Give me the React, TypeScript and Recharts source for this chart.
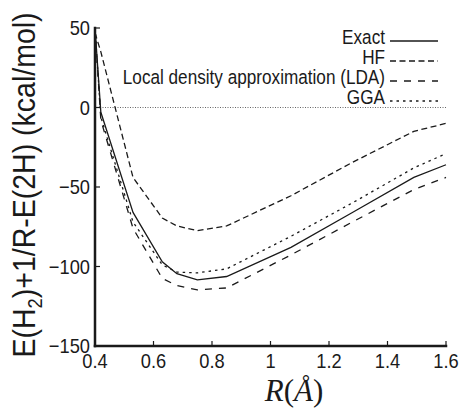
import { LineChart, Line, XAxis, YAxis, ReferenceLine, Customized } from 'recharts'

// bond length R (Å) and energies (kcal/mol)
const radii = [0.4, 0.42, 0.53, 0.63, 0.68, 0.75, 0.85, 1.07, 1.28, 1.49, 1.6]
const exact = [50, -3, -66, -97, -104.5, -108.4, -106.3, -88, -66, -44, -36]
const hf = [47, 35, -44, -69.5, -74.5, -77.5, -74.5, -55.5, -34.5, -15, -10]
const lda = [50, -8, -76, -107.5, -112, -114.7, -113.5, -92.7, -72, -51.6, -44]
const gga = [50, -6, -72, -99, -103.5, -104, -101.5, -81, -60, -38, -29]

const xTicks = [0.4, 0.6, 0.8, 1, 1.2, 1.4, 1.6]
const yTicks = [-150, -100, -50, 0, 50]

const seriesKeys = ['exact', 'hf', 'lda', 'gga']
const seriesNames = ['Exact', 'HF', 'Local density approximation (LDA)', 'GGA']
const seriesDash = ['', '6 3.5', '7 7', '2.5 4']

const rows = radii.map((r, i) => ({ r, exact: exact[i], hf: hf[i], lda: lda[i], gga: gga[i] }))

const INK = '#1a1a1a'
const SANS = '"Liberation Sans", Arial, sans-serif'
const TICK_LEN = 5

const fmt = (v: number) => String(v).replace('-', '\u2212')

function BottomTick({ x, y, payload }: any) {
  return (
    <g>
      <line x1={x} y1={y} x2={x} y2={y - TICK_LEN} stroke={INK} strokeWidth={1.2} />
      <text transform={`translate(${x},${y + 22}) scale(0.87,1)`} textAnchor="middle" fontSize={21} fontFamily={SANS} fill={INK}>
        {fmt(payload.value)}
      </text>
    </g>
  )
}

function LeftTick({ x, y, payload }: any) {
  return (
    <g>
      <line x1={x} y1={y} x2={x + TICK_LEN} y2={y} stroke={INK} strokeWidth={1.2} />
      <text transform={`translate(${x - 5},${y + 7}) scale(0.87,1)`} textAnchor="end" fontSize={21} fontFamily={SANS} fill={INK}>
        {fmt(payload.value)}
      </text>
    </g>
  )
}

function TopTick({ x, y }: any) {
  return <line x1={x} y1={y} x2={x} y2={y + TICK_LEN} stroke={INK} strokeWidth={1.2} />
}

function RightTick({ x, y }: any) {
  return <line x1={x} y1={y} x2={x - TICK_LEN} y2={y} stroke={INK} strokeWidth={1.2} />
}

function Decorations() {
  return (
    <g>
      {/* y label */}
      <text transform="translate(27,177) rotate(-90) scale(0.92,1)" textAnchor="middle" fontSize={31} fontFamily={SANS} fill={INK}>
        E(H<tspan dy={7} fontSize={20}>2</tspan>
        <tspan dy={-7}>)+1/R-E(2H) (kcal/mol)</tspan>
      </text>
      {/* x label */}
      <text x={286} y={393} textAnchor="middle" fontSize={31} fontFamily='"Liberation Serif", "Times New Roman", serif' fill={INK}>
        <tspan fontStyle="italic">R</tspan>(<tspan fontStyle="italic">Å</tspan>)
      </text>
      {/* legend */}
      {seriesNames.map((name, i) => {
        const base = 36 + i * 20
        return (
          <g key={name}>
            <text transform={`translate(377,${base}) scale(0.88,1)`} textAnchor="end" fontSize={19.5} fontFamily={SANS} fill={INK}>
              {name}
            </text>
            <line x1={382} x2={430} y1={base - 3} y2={base - 3} stroke={INK} strokeWidth={1.3} strokeDasharray={seriesDash[i] || undefined} />
          </g>
        )
      })}
    </g>
  )
}

const frame = { stroke: INK, strokeWidth: 2.5, strokeLinecap: 'square' as const }

export default function App() {
  return (
    <div style={{ position: 'absolute', left: 8, top: 8, width: 452, height: 400, fontFamily: SANS }}>
      <LineChart width={452} height={400} data={rows} margin={{ top: 20, right: 14, bottom: 0, left: 0 }}>
        <XAxis
          dataKey="r"
          type="number"
          domain={[0.4, 1.6]}
          ticks={xTicks}
          interval={0}
          height={62}
          tickSize={0}
          tickMargin={0}
          tickLine={false}
          axisLine={frame}
          tick={<BottomTick />}
        />
        <XAxis
          xAxisId="top"
          orientation="top"
          dataKey="r"
          type="number"
          domain={[0.4, 1.6]}
          ticks={xTicks}
          interval={0}
          height={0}
          tickSize={0}
          tickMargin={0}
          tickLine={false}
          axisLine={frame}
          tick={<TopTick />}
        />
        <YAxis
          type="number"
          domain={[-150, 50]}
          ticks={yTicks}
          interval={0}
          width={87}
          tickSize={0}
          tickMargin={0}
          tickLine={false}
          axisLine={frame}
          tick={<LeftTick />}
          allowDataOverflow
        />
        <YAxis
          yAxisId="right"
          orientation="right"
          type="number"
          domain={[-150, 50]}
          ticks={yTicks}
          interval={0}
          width={0}
          tickSize={0}
          tickMargin={0}
          tickLine={false}
          axisLine={frame}
          tick={<RightTick />}
        />
        <ReferenceLine y={0} stroke="#555" strokeWidth={0.9} strokeDasharray="1 1.5" />
        {seriesKeys.map((key, i) => (
          <Line
            key={key}
            dataKey={key}
            type="linear"
            stroke={INK}
            strokeWidth={1.3}
            strokeDasharray={seriesDash[i] || undefined}
            dot={false}
            activeDot={false}
            isAnimationActive={false}
          />
        ))}
        <Customized component={Decorations} />
      </LineChart>
    </div>
  )
}
